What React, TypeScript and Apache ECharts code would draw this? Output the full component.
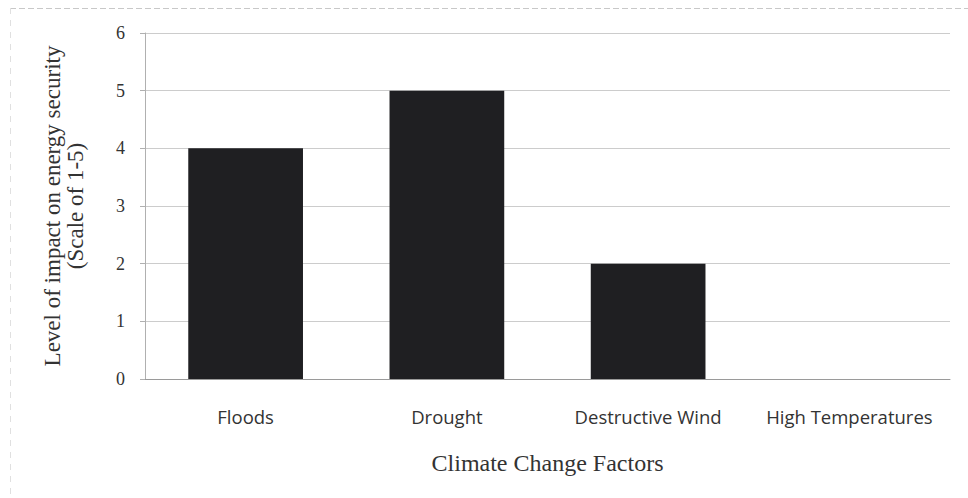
import React, { useEffect, useRef } from "react";
import * as echarts from "echarts";

const categories = ["Floods", "Drought", "Destructive Wind", "High Temperatures"];
const impactValues = [4, 5, 2, 0];
const yTicks = [0, 1, 2, 3, 4, 5, 6];

export default function App() {
  const ref = useRef<HTMLDivElement>(null);
  useEffect(() => {
    document.body.style.margin = "0";
    const chart = echarts.init(ref.current!, null, { renderer: "svg" });
    chart.setOption({
      animation: false,
      backgroundColor: "#ffffff",
      graphic: [
        { type: "line", shape: { x1: 10, y1: 8.5, x2: 968, y2: 8.5 }, style: { stroke: "#c8c8c8", lineWidth: 1, lineDash: [6, 3] } },
        { type: "line", shape: { x1: 10.5, y1: 8, x2: 10.5, y2: 498 }, style: { stroke: "#e0e0e0", lineWidth: 1, lineDash: [6, 6] } },
      ],
      grid: { left: 145, top: 33, right: 18, bottom: 119 },
      xAxis: {
        type: "category",
        data: categories,
        name: "Climate Change Factors",
        nameLocation: "middle",
        nameGap: 72,
        nameTextStyle: { fontFamily: "Liberation Serif", fontSize: 24, color: "#333" },
        axisLine: { lineStyle: { color: "#9a9a9a" } },
        axisTick: { show: false },
        axisLabel: { fontFamily: "Open Sans", fontSize: 18.5, color: "#333", margin: 28, interval: 0 },
      },
      yAxis: {
        type: "value",
        min: 0,
        max: 6,
        interval: 1,
        name: "Level of impact on energy security\n(Scale of 1-5)",
        nameLocation: "middle",
        nameGap: 58,
        nameRotate: 90,
        nameTextStyle: { fontFamily: "Liberation Serif", fontSize: 23, color: "#333", lineHeight: 23, align: "center" },
        axisLine: { show: true, lineStyle: { color: "#b0b0b0" } },
        axisTick: { show: true, length: 5, lineStyle: { color: "#b0b0b0" } },
        axisLabel: {
          fontFamily: "Liberation Serif",
          fontSize: 18,
          color: "#333",
          margin: 20,
          formatter: (v: number) => (yTicks.includes(v) ? String(v) : ""),
        },
        splitLine: { lineStyle: { color: "#cccccc", width: 1 } },
      },
      series: [
        {
          type: "bar",
          data: impactValues,
          barWidth: "57%",
          itemStyle: { color: "#1f1f22" },
        },
      ],
    });
    return () => chart.dispose();
  }, []);
  return <div ref={ref} style={{ width: 968, height: 498, position: "fixed", left: 0, top: 0 }} />;
}
